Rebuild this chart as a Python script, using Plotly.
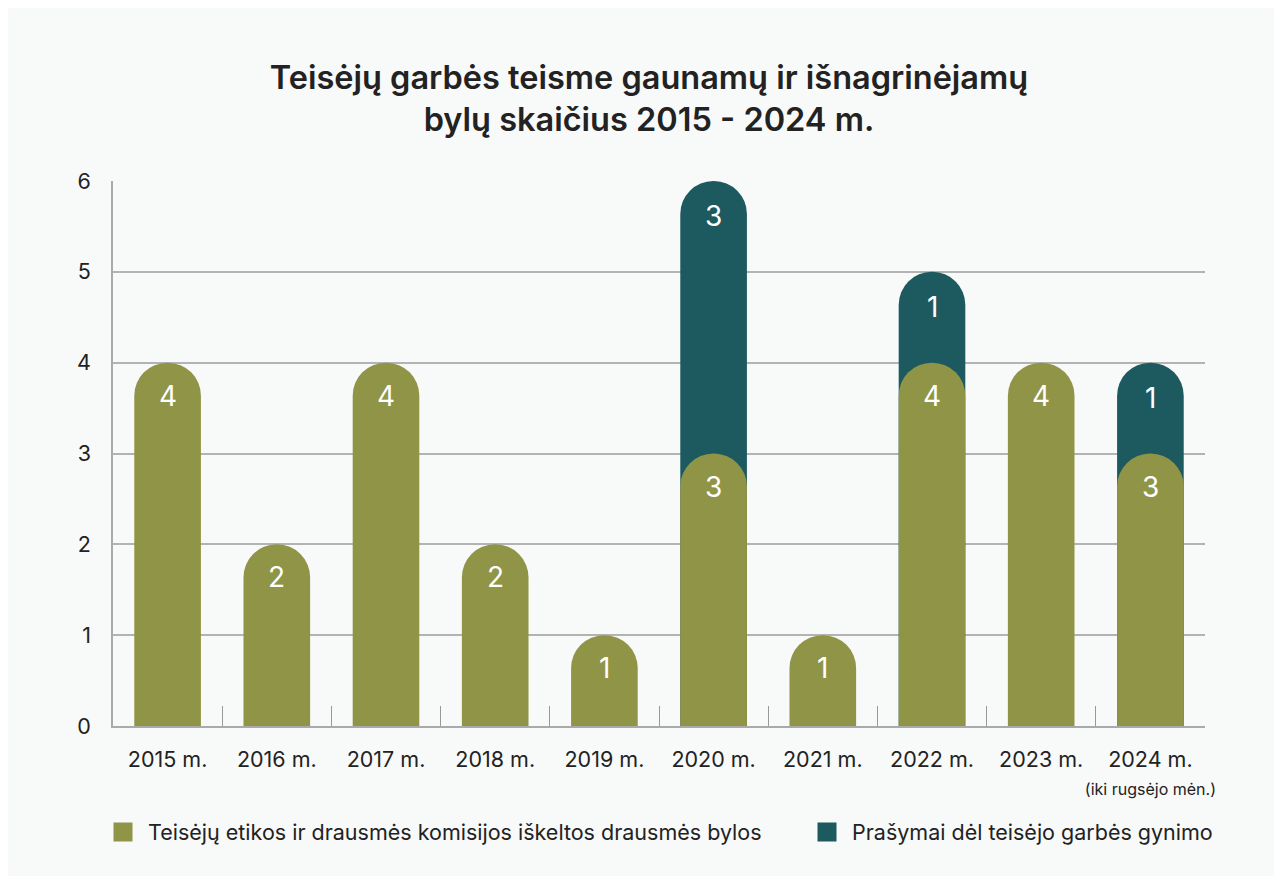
import plotly.graph_objects as go

years = ["2015 m.", "2016 m.", "2017 m.", "2018 m.", "2019 m.", "2020 m.", "2021 m.", "2022 m.", "2023 m.", "2024 m."]
tick_text = ["2015 m.", "2016 m.", "2017 m.", "2018 m.", "2019 m.", "2020 m.", "2021 m.", "2022 m.", "2023 m.",
             "2024 m.<br><span style='font-size:16px'>(iki rugsėjo mėn.)</span>"]
komisijos = [4, 2, 4, 2, 1, 3, 1, 4, 4, 3]
prasymai = [0, 0, 0, 0, 0, 3, 0, 1, 0, 1]

name_k = "Teisėjų etikos ir drausmės komisijos iškeltos drausmės bylos"
name_p = "Prašymai dėl teisėjo garbės gynimo"

OLIVE = "#909446"
TEAL = "#1c5a5f"
BG = "#f8f9f9"
FONT = "Inter, Noto Sans, sans-serif"
TXT = "#222222"

# plot-area geometry (figure pixels)
L, T, PW, PH = 105, 173, 1092, 545
W, H = 1282, 876

totals = [k + p if p else None for k, p in zip(komisijos, prasymai)]

fig = go.Figure()
fig.add_trace(go.Bar(x=years, y=totals, name=name_p, showlegend=False, xaxis="x", yaxis="y",
                     marker=dict(color=TEAL, cornerradius="50%", line=dict(width=0)), hoverinfo="skip"))
fig.add_trace(go.Bar(x=years, y=komisijos, name=name_k, showlegend=False, xaxis="x2", yaxis="y",
                     marker=dict(color=OLIVE, cornerradius="50%", line=dict(width=0)), hoverinfo="skip"))

fig.add_trace(go.Scatter(x=[None], y=[None], mode="markers", name=name_k, legend="legend",
                         marker=dict(symbol="square", size=16, color=OLIVE, line=dict(width=3, color=OLIVE))))
fig.add_trace(go.Scatter(x=[None], y=[None], mode="markers", name=name_p, legend="legend2",
                         marker=dict(symbol="square", size=16, color=TEAL, line=dict(width=3, color=TEAL))))

annotations = []
for yr, k, p in zip(years, komisijos, prasymai):
    annotations.append(dict(x=yr, y=k, text=str(k), showarrow=False, yanchor="middle", yshift=-33,
                            font=dict(color="white", size=28, family=FONT)))
    if p:
        annotations.append(dict(x=yr, y=k + p, text=str(p), showarrow=False, yanchor="middle", yshift=-35,
                                font=dict(color="white", size=28, family=FONT)))

legend_common = dict(orientation="h", yanchor="middle", y=-(824 - (T + PH)) / PH, xanchor="left",
                     font=dict(size=21.5, family=FONT, color=TXT), bgcolor="rgba(0,0,0,0)",
                     itemsizing="trace", itemwidth=40)

fig.update_layout(
    width=W, height=H,
    barmode="overlay", bargap=0.39,
    paper_bgcolor=BG, plot_bgcolor=BG,
    margin=dict(l=L, r=W - L - PW, t=T, b=H - T - PH, autoexpand=False),
    font=dict(family=FONT, color=TXT, size=21.5),
    title=dict(text="Teisėjų garbės teisme gaunamų ir išnagrinėjamų<br>bylų skaičius 2015 - 2024 m.",
               x=0.5, xanchor="center", y=(H - 81) / H, yanchor="middle",
               font=dict(size=32.5, family=FONT, color=TXT, weight=600)),
    showlegend=True,
    legend=dict(x=(90 - L) / PW, **legend_common),
    legend2=dict(x=(794 - L) / PW, **legend_common),
    annotations=annotations,
    xaxis=dict(tickmode="array", tickvals=years, ticktext=tick_text, tickson="boundaries",
               ticks="inside", ticklen=20, tickcolor="#999999", tickwidth=1, tickangle=0,
               showline=True, linecolor="#aaaaaa", linewidth=1.5, automargin=False,
               ticklabelstandoff=13,
               showgrid=False, tickfont=dict(size=21.5, color=TXT), fixedrange=True),
    xaxis2=dict(overlaying="x", matches="x", visible=False, fixedrange=True),
    yaxis=dict(range=[0, 6], dtick=1, showgrid=True, gridcolor="#b3b3b3", gridwidth=1.5,
               showline=True, linecolor="#aaaaaa", linewidth=1.5, zeroline=False, automargin=False,
               ticks="", ticklabelstandoff=16, tickfont=dict(size=21.5, color=TXT), fixedrange=True),
)

fig.write_html("out.html")
